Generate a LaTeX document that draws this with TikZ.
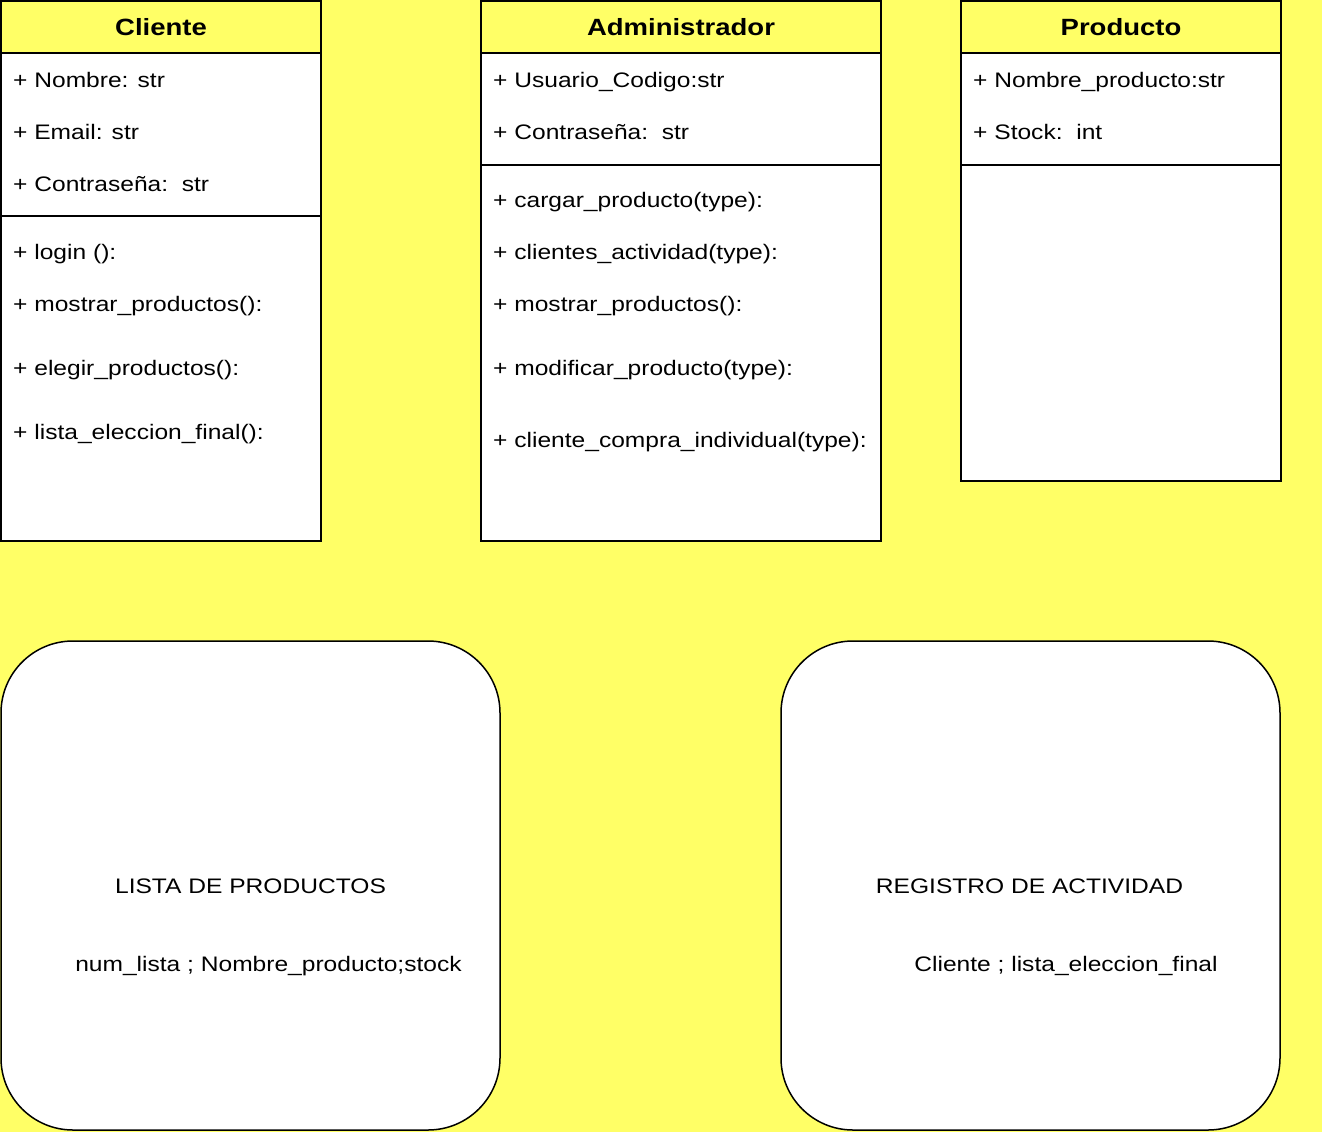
\documentclass[tikz,border=0pt]{standalone}
\usepackage{fontspec}
\setmainfont{Liberation Sans}[FakeStretch=1.17]
\definecolor{bg}{HTML}{FFFF66}
\begin{document}
\begin{tikzpicture}[x=1pt,y=-1pt,
  classbox/.style={draw=black, line width=1.5pt, fill=white, anchor=north west, inner sep=0pt, outer sep=0pt},
  headbox/.style={draw=black, line width=1.5pt, fill=bg, anchor=north west, inner sep=0pt, outer sep=0pt, minimum height=52pt},
  titletext/.style={anchor=base, inner sep=0pt, font=\bfseries\fontsize{23.5}{27}\selectfont},
  item/.style={anchor=base west, inner sep=0pt, font=\fontsize{21}{25}\selectfont},
  ctext/.style={anchor=base, inner sep=0pt, font=\fontsize{21}{25}\selectfont},
  roundbox/.style={draw=black, line width=1.5pt, fill=white, rounded corners=72pt, anchor=north west, inner sep=0pt, outer sep=0pt, minimum width=499pt, minimum height=489pt},
  divider/.style={draw=black, line width=1.5pt}]
\fill[bg] (0,0) rectangle (1322,1132);
\useasboundingbox (0,0) rectangle (1322,1132);

% Cliente
\node[classbox, minimum width=320pt, minimum height=540pt] (cliente) at (1,1) {};
\node[headbox, minimum width=320pt] (clienteh) at (1,1) {};
\node[titletext] (clientet) at (161,36) {Cliente};
\draw[divider] (1,216) -- (321,216);
\node[item] (c1) at (13,87) {+ Nombre: str};
\node[item] (c2) at (13,139) {+ Email: str};
\node[item] (c3) at (13,191) {+ Contraseña:\ \ str};
\node[item] (c4) at (13,259) {+ login ():};
\node[item] (c5) at (13,311) {+ mostrar\_productos():};
\node[item] (c6) at (13,375) {+ elegir\_productos():};
\node[item] (c7) at (13,439) {+ lista\_eleccion\_final():};

% Administrador
\node[classbox, minimum width=400pt, minimum height=540pt] (admin) at (481,1) {};
\node[headbox, minimum width=400pt] (adminh) at (481,1) {};
\node[titletext] (admint) at (681,36) {Administrador};
\draw[divider] (481,165) -- (881,165);
\node[item] (a1) at (493,87) {+ Usuario\_Codigo:str};
\node[item] (a2) at (493,139) {+ Contraseña:\ \ str};
\node[item] (a3) at (493,207) {+ cargar\_producto(type):};
\node[item] (a4) at (493,259) {+ clientes\_actividad(type):};
\node[item] (a5) at (493,311) {+ mostrar\_productos():};
\node[item] (a6) at (493,375) {+ modificar\_producto(type):};
\node[item] (a7) at (493,447) {+ cliente\_compra\_individual(type):};

% Producto
\node[classbox, minimum width=320pt, minimum height=480pt] (prod) at (961,1) {};
\node[headbox, minimum width=320pt] (prodh) at (961,1) {};
\node[titletext] (prodt) at (1121,36) {Producto};
\draw[divider] (961,165) -- (1281,165);
\node[item] (p1) at (973,87) {+ Nombre\_producto:str};
\node[item] (p2) at (973,139) {+ Stock:\ \ int};

% Rounded boxes
\node[roundbox] (lista) at (1,641) {};
\node[ctext] (listat) at (250.5,893) {LISTA DE PRODUCTOS};
\node[ctext] (listas) at (268.5,971) {num\_lista ; Nombre\_producto;stock};

\node[roundbox] (registro) at (781,641) {};
\node[ctext] (regt) at (1029.5,893) {REGISTRO DE ACTIVIDAD};
\node[ctext] (regs) at (1066,971) {Cliente ; lista\_eleccion\_final};
\end{tikzpicture}
\end{document}
